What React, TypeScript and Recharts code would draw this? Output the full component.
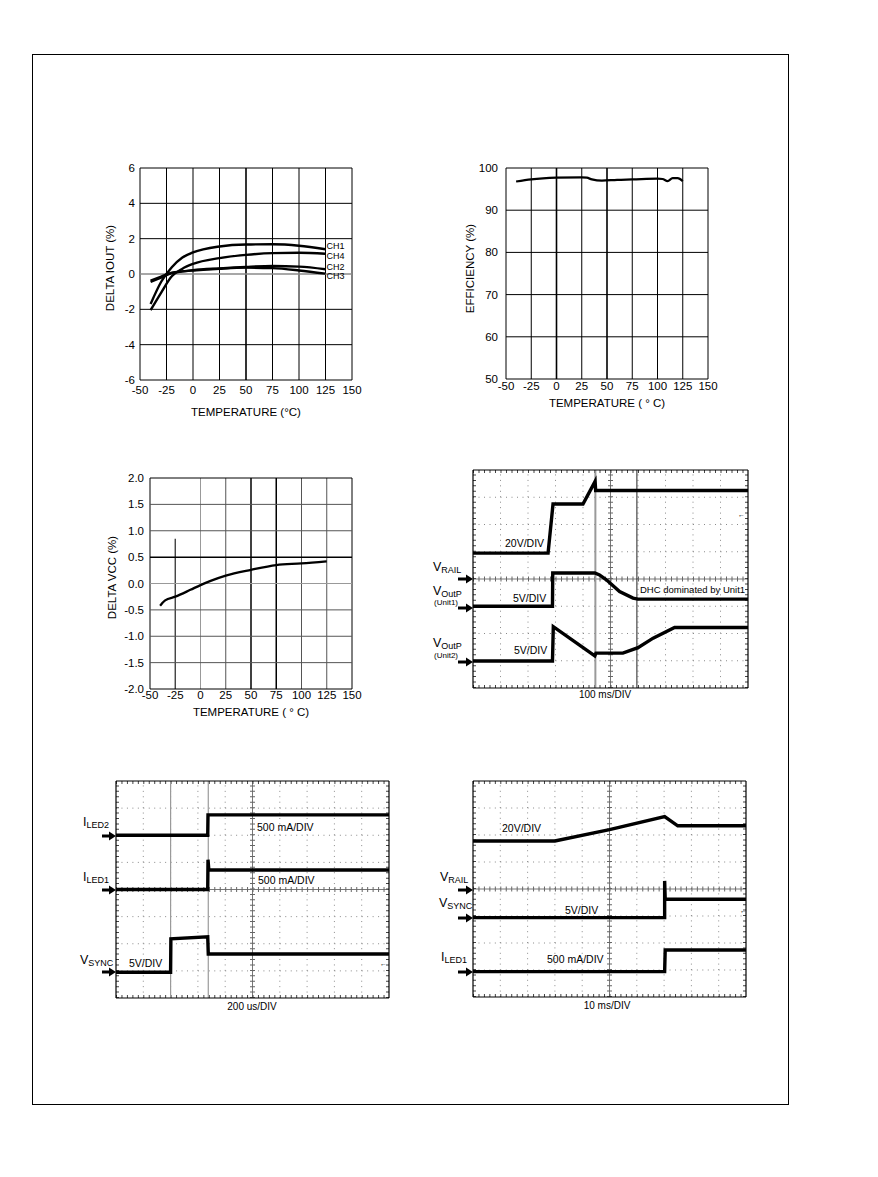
import React from "react";
import { LineChart, Line, XAxis, YAxis, ReferenceLine, ReferenceDot } from "recharts";

const FONT = '"Liberation Sans", Arial, sans-serif';

// ---- temperature sweeps ----
const TEMP_TICKS = [-50, -25, 0, 25, 50, 75, 100, 125, 150];

const IOUT_TEMPS = [-40, -30, -20, -10, 0, 25, 50, 75, 100, 125];
const CH1 = [-1.7, -0.44, 0.38, 0.93, 1.22, 1.56, 1.67, 1.68, 1.6, 1.4];
const CH2 = [-0.45, -0.2, 0.05, 0.15, 0.22, 0.32, 0.4, 0.45, 0.42, 0.27];
const CH3 = [-0.38, -0.15, 0.08, 0.15, 0.2, 0.3, 0.36, 0.33, 0.2, 0.02];
const CH4 = [-2.05, -1.05, -0.13, 0.3, 0.57, 0.9, 1.08, 1.18, 1.2, 1.15];
const IOUT_TICKS = [-6, -4, -2, 0, 2, 4, 6];
const CH_NAMES = ["CH1", "CH4", "CH2", "CH3"];
const CH_LABEL_Y = [1.58, 1.03, 0.43, -0.13];

const EFF_TEMPS = [-40, -25, 0, 25, 30, 35, 45, 60, 75, 100, 105, 110, 115, 120, 125];
const EFF = [96.8, 97.3, 97.7, 97.8, 97.7, 97.3, 97.0, 97.2, 97.3, 97.5, 97.4, 96.9, 97.6, 97.6, 96.9];
const EFF_TICKS = [50, 60, 70, 80, 90, 100];

const VCC_TEMPS = [-40, -35, -25, -10, 0, 10, 25, 50, 75, 100, 125];
const VCC = [-0.42, -0.32, -0.25, -0.12, -0.03, 0.05, 0.15, 0.26, 0.35, 0.38, 0.42];
const VCC_TICKS = [-2, -1.5, -1, -0.5, 0, 0.5, 1, 1.5, 2];

// ---- scope captures (x: divisions 0..10, y: divisions 0..8 from bottom) ----
const S1_RAIL_T = [0, 2.73, 2.91, 4.0, 4.44, 4.46, 10];
const S1_RAIL_V = [4.95, 4.95, 6.75, 6.75, 7.58, 7.25, 7.25];
const S1_U1_T = [0, 2.89, 2.9, 4.43, 4.6, 4.85, 5.33, 5.82, 6.0, 10];
const S1_U1_V = [3.0, 3.0, 4.22, 4.22, 4.15, 3.97, 3.54, 3.3, 3.26, 3.26];
const S1_U2_T = [0, 2.89, 2.92, 4.43, 4.47, 5.45, 6.0, 6.55, 7.33, 10];
const S1_U2_V = [0.99, 0.99, 2.25, 1.18, 1.28, 1.28, 1.48, 1.83, 2.22, 2.22];

const S2_LED2_T = [0, 3.36, 3.37, 10];
const S2_LED2_V = [6.0, 6.0, 6.75, 6.75];
const S2_LED1_T = [0, 3.36, 3.37, 3.4, 10];
const S2_LED1_V = [4.0, 4.0, 5.1, 4.72, 4.72];
const S2_SYNC_T = [0, 2.0, 2.01, 3.36, 3.38, 10];
const S2_SYNC_V = [0.95, 0.95, 2.18, 2.26, 1.62, 1.62];

const S3_RAIL_T = [0, 3.0, 5.0, 7.02, 7.5, 10];
const S3_RAIL_V = [5.78, 5.78, 6.2, 6.68, 6.34, 6.34];
const S3_SYNC_T = [0, 7.02, 7.02, 7.04, 10];
const S3_SYNC_V = [2.94, 2.94, 4.3, 3.62, 3.62];
const S3_LED1_T = [0, 7.02, 7.04, 10];
const S3_LED1_V = [0.94, 0.94, 1.74, 1.74];

const pts = (xs: number[], ys: number[]) => xs.map((x, i) => ({ x, y: ys[i] }));

const tickStyle = { fill: "#000", fontSize: 11.5 };
const titleStyle = { fill: "#000", fontSize: 11.5 };

type Cursor = { x: number; color: string; width: number };

function Scope({ left, top, w, h, traces, cursors }: { left: number; top: number; w: number; h: number; traces: [number[], number[]][]; cursors: Cursor[] }) {
  const m = 4;
  const dotH = `1 ${w / 50 - 1}`;
  const dotV = `1 ${h / 40 - 1}`;
  const ux = 10 / w;
  const uy = 8 / h;
  return (
    <div style={{ position: "absolute", left: left - m, top: top - m }}>
      <LineChart width={w + 2 * m} height={h + 2 * m} margin={{ top: m, right: m, bottom: m, left: m }}>
        <XAxis type="number" dataKey="x" domain={[0, 10]} hide />
        <YAxis type="number" dataKey="y" domain={[0, 8]} hide />
        {[1, 2, 3, 4, 6, 7, 8, 9].map((v) => (
          <ReferenceLine key={`gx${v}`} x={v} stroke="#8a8a8a" strokeDasharray={dotV} />
        ))}
        {[1, 2, 3, 5, 6, 7].map((v) => (
          <ReferenceLine key={`gy${v}`} y={v} stroke="#8a8a8a" strokeDasharray={dotH} />
        ))}
        <ReferenceLine x={5} stroke="#777" />
        <ReferenceLine y={4} stroke="#777" />
        <ReferenceLine x={5} stroke="#666" strokeWidth={5} strokeDasharray={dotV} />
        <ReferenceLine y={4} stroke="#666" strokeWidth={5} strokeDasharray={dotH} />
        <ReferenceLine y={8 - 1.5 * uy} stroke="#444" strokeWidth={3} strokeDasharray={dotH} />
        <ReferenceLine y={1.5 * uy} stroke="#444" strokeWidth={3} strokeDasharray={dotH} />
        <ReferenceLine x={1.5 * ux} stroke="#444" strokeWidth={3} strokeDasharray={dotV} />
        <ReferenceLine x={10 - 1.5 * ux} stroke="#444" strokeWidth={3} strokeDasharray={dotV} />
        {cursors.map((c) => (
          <ReferenceLine key={`c${c.x}`} x={c.x} stroke={c.color} strokeWidth={c.width} />
        ))}
        <ReferenceLine x={0} stroke="#000" strokeWidth={1.2} />
        <ReferenceLine x={10} stroke="#000" strokeWidth={1.2} />
        <ReferenceLine y={0} stroke="#000" strokeWidth={1.2} />
        <ReferenceLine y={8} stroke="#000" strokeWidth={1.2} />
        {traces.map(([t, v], i) => (
          <Line
            key={i}
            data={pts(t, v)}
            dataKey="y"
            type="linear"
            stroke="#000"
            strokeWidth={3.4}
            dot={false}
            isAnimationActive={false}
          />
        ))}
      </LineChart>
    </div>
  );
}

const Txt = ({ x, y, size = 10.5, center = false, children }: { x: number; y: number; size?: number; center?: boolean; children: React.ReactNode }) => (
  <div
    style={{
      position: "absolute",
      left: x,
      top: y - size / 2,
      fontSize: size,
      lineHeight: `${size}px`,
      whiteSpace: "nowrap",
      transform: center ? "translateX(-50%)" : undefined,
    }}
  >
    {children}
  </div>
);

const Sig = ({ x, y, main, sub }: { x: number; y: number; main: string; sub: string }) => (
  <div style={{ position: "absolute", left: x, top: y - 7, fontSize: 12.5, lineHeight: "14px", whiteSpace: "nowrap" }}>
    {main}
    <span style={{ fontSize: 9, position: "relative", top: 2 }}>{sub}</span>
  </div>
);

const Arrow = ({ x1, x2, y }: { x1: number; x2: number; y: number }) => {
  const w = x2 - x1;
  return (
    <svg style={{ position: "absolute", left: x1, top: y - 5 }} width={w} height={10}>
      <line x1={0} y1={5} x2={w - 6} y2={5} stroke="#000" strokeWidth={3} />
      <polygon points={`${w - 7},0.5 ${w},5 ${w - 7},9.5`} fill="#000" />
    </svg>
  );
};

export default function App() {
  const ioutData = IOUT_TEMPS.map((t, i) => ({ t, ch1: CH1[i], ch2: CH2[i], ch3: CH3[i], ch4: CH4[i] }));
  const effData = EFF_TEMPS.map((t, i) => ({ t, eff: EFF[i] }));
  const vccData = VCC_TEMPS.map((t, i) => ({ t, vcc: VCC[i] }));

  return (
    <div style={{ position: "absolute", left: 0, top: 0, width: 878, height: 1177, background: "#fff", fontFamily: FONT, color: "#000" }}>
      <div style={{ position: "absolute", left: 32, top: 54, width: 757, height: 1051, border: "1px solid #000", boxSizing: "border-box" }} />

      {/* Delta IOUT vs temperature */}
      <div style={{ position: "absolute", left: 100, top: 160 }}>
        <LineChart width={264} height={260} data={ioutData} margin={{ top: 8, right: 12, left: 0, bottom: 0 }}>
          <XAxis type="number" dataKey="t" domain={[-50, 150]} ticks={TEMP_TICKS} interval={0} axisLine={false} tickLine={false} tickSize={0} tickMargin={6} height={40} tick={tickStyle}
            label={{ value: "TEMPERATURE (°C)", position: "insideBottom", offset: 4, ...titleStyle }} />
          <YAxis type="number" domain={[-6, 6]} ticks={IOUT_TICKS} interval={0} axisLine={false} tickLine={false} tickSize={0} tickMargin={5} width={40} tick={tickStyle}
            label={{ value: "DELTA IOUT (%)", angle: -90, position: "insideLeft", offset: 10, dy: -6, style: { textAnchor: "middle" }, ...titleStyle }} />
          {TEMP_TICKS.map((v) => (
            <ReferenceLine key={`vx${v}`} x={v} stroke="#000" strokeWidth={v === 50 ? 1.6 : 1} />
          ))}
          {IOUT_TICKS.map((v) => (
            <ReferenceLine key={`vy${v}`} y={v} stroke={v === 0 ? "#8a8a8a" : "#000"} strokeWidth={v === 0 ? 1.6 : 1} />
          ))}
          <Line dataKey="ch1" type="monotone" stroke="#000" strokeWidth={2.4} dot={false} isAnimationActive={false} />
          <Line dataKey="ch2" type="monotone" stroke="#000" strokeWidth={2.4} dot={false} isAnimationActive={false} />
          <Line dataKey="ch3" type="monotone" stroke="#000" strokeWidth={2.4} dot={false} isAnimationActive={false} />
          <Line dataKey="ch4" type="monotone" stroke="#000" strokeWidth={2.4} dot={false} isAnimationActive={false} />
          {CH_NAMES.map((n, i) => (
            <ReferenceDot key={n} x={125} y={CH_LABEL_Y[i]} r={0} fill="none" stroke="none"
              label={{ value: n, position: "right", offset: 1, fill: "#000", fontSize: 9 }} />
          ))}
        </LineChart>
      </div>

      {/* Efficiency vs temperature */}
      <div style={{ position: "absolute", left: 458, top: 160 }}>
        <LineChart width={262} height={260} data={effData} margin={{ top: 8, right: 12, left: 0, bottom: 0 }}>
          <XAxis type="number" dataKey="t" domain={[-50, 150]} ticks={TEMP_TICKS} interval={0} axisLine={false} tickLine={false} tickSize={0} tickMargin={3} height={41} tick={tickStyle}
            label={{ value: "TEMPERATURE ( ° C)", position: "insideBottom", offset: 13, ...titleStyle }} />
          <YAxis type="number" domain={[50, 100]} ticks={EFF_TICKS} interval={0} axisLine={false} tickLine={false} tickSize={0} tickMargin={8} width={48} tick={tickStyle}
            label={{ value: "EFFICIENCY (%)", angle: -90, position: "insideLeft", offset: 12, dy: -5, style: { textAnchor: "middle" }, ...titleStyle }} />
          {TEMP_TICKS.map((v) => (
            <ReferenceLine key={`ex${v}`} x={v} stroke="#000" strokeWidth={v === 0 || v === 50 ? 1.6 : 1} />
          ))}
          {EFF_TICKS.map((v) => (
            <ReferenceLine key={`ey${v}`} y={v} stroke="#000" strokeWidth={1} />
          ))}
          <Line dataKey="eff" type="monotone" stroke="#000" strokeWidth={2.2} dot={false} isAnimationActive={false} />
        </LineChart>
      </div>

      {/* Delta VCC vs temperature */}
      <div style={{ position: "absolute", left: 100, top: 470 }}>
        <LineChart width={264} height={260} data={vccData} margin={{ top: 8, right: 12, left: 0, bottom: 0 }}>
          <XAxis type="number" dataKey="t" domain={[-50, 150]} ticks={TEMP_TICKS} interval={0} axisLine={false} tickLine={false} tickSize={0} tickMargin={2} height={41} tick={tickStyle}
            label={{ value: "TEMPERATURE ( ° C)", position: "insideBottom", offset: 14, ...titleStyle }} />
          <YAxis type="number" domain={[-2, 2]} ticks={VCC_TICKS} interval={0} axisLine={false} tickLine={false} tickSize={0} tickMargin={6} width={50} tick={tickStyle}
            tickFormatter={(v: number) => v.toFixed(1)}
            label={{ value: "DELTA VCC (%)", angle: -90, position: "insideLeft", offset: 12, dy: -6, style: { textAnchor: "middle" }, ...titleStyle }} />
          {TEMP_TICKS.filter((v) => v !== -25).map((v) => (
            <ReferenceLine key={`cx${v}`} x={v} stroke={v === 0 ? "#999" : v === 50 || v === 75 || v === -50 || v === 150 ? "#000" : "#555"} strokeWidth={v === 50 || v === 75 ? 1.5 : 1} />
          ))}
          <ReferenceLine segment={[{ x: -25, y: 0.85 }, { x: -25, y: -2 }]} stroke="#333" strokeWidth={1.3} />
          {VCC_TICKS.map((v) => (
            <ReferenceLine key={`cy${v}`} y={v} stroke={v === 0 ? "#999" : v === 0.5 || v === 2 || v === -2 ? "#000" : "#555"} strokeWidth={v === 0.5 ? 1.5 : 1} />
          ))}
          <Line dataKey="vcc" type="monotone" stroke="#000" strokeWidth={2.3} dot={false} isAnimationActive={false} />
        </LineChart>
      </div>

      {/* Scope 1: 100 ms/DIV */}
      <Scope
        left={473}
        top={470}
        w={275}
        h={218}
        traces={[[S1_RAIL_T, S1_RAIL_V], [S1_U1_T, S1_U1_V], [S1_U2_T, S1_U2_V]]}
        cursors={[{ x: 4.45, color: "#9a9a9a", width: 2 }, { x: 5.96, color: "#222", width: 1 }]}
      />
      <Txt x={505} y={543}>20V/DIV</Txt>
      <Txt x={513} y={598}>5V/DIV</Txt>
      <Txt x={514} y={650}>5V/DIV</Txt>
      <Txt x={640} y={590} size={9.5}>DHC dominated by Unit1</Txt>
      <Txt x={605} y={695} size={10} center>100 ms/DIV</Txt>
      <Txt x={738} y={514} size={7}>←</Txt>
      <Sig x={433} y={567} main="V" sub="RAIL" />
      <Sig x={433} y={591} main="V" sub="OutP" />
      <Txt x={434} y={603} size={8}>(Unit1)</Txt>
      <Sig x={433} y={643} main="V" sub="OutP" />
      <Txt x={434} y={656} size={8}>(Unit2)</Txt>
      <Arrow x1={458} x2={473} y={579} />
      <Arrow x1={458} x2={473} y={608} />
      <Arrow x1={458} x2={473} y={662} />

      {/* Scope 2: 200 us/DIV */}
      <Scope
        left={116}
        top={781}
        w={273}
        h={217}
        traces={[[S2_LED2_T, S2_LED2_V], [S2_LED1_T, S2_LED1_V], [S2_SYNC_T, S2_SYNC_V]]}
        cursors={[{ x: 2.0, color: "#9a9a9a", width: 1.2 }, { x: 3.38, color: "#9a9a9a", width: 1.2 }]}
      />
      <Txt x={257} y={827}>500 mA/DIV</Txt>
      <Txt x={258} y={880}>500 mA/DIV</Txt>
      <Txt x={129} y={963}>5V/DIV</Txt>
      <Txt x={252} y={1007} size={10} center>200 us/DIV</Txt>
      <Txt x={380} y={963} size={7}>←</Txt>
      <Sig x={83} y={822} main="I" sub="LED2" />
      <Sig x={83} y={877} main="I" sub="LED1" />
      <Sig x={80} y={960} main="V" sub="SYNC" />
      <Arrow x1={102} x2={116} y={836} />
      <Arrow x1={102} x2={116} y={890} />
      <Arrow x1={102} x2={116} y={972} />

      {/* Scope 3: 10 ms/DIV */}
      <Scope
        left={473}
        top={781}
        w={273}
        h={216}
        traces={[[S3_RAIL_T, S3_RAIL_V], [S3_SYNC_T, S3_SYNC_V], [S3_LED1_T, S3_LED1_V]]}
        cursors={[]}
      />
      <Txt x={502} y={828}>20V/DIV</Txt>
      <Txt x={565} y={910}>5V/DIV</Txt>
      <Txt x={547} y={959}>500 mA/DIV</Txt>
      <Txt x={607} y={1006} size={10} center>10 ms/DIV</Txt>
      <Txt x={740} y={910} size={7}>←</Txt>
      <Sig x={440} y={877} main="V" sub="RAIL" />
      <Sig x={439} y={903} main="V" sub="SYNC" />
      <Sig x={441} y={957} main="I" sub="LED1" />
      <Arrow x1={458} x2={473} y={890} />
      <Arrow x1={458} x2={473} y={918} />
      <Arrow x1={458} x2={473} y={972} />
    </div>
  );
}
